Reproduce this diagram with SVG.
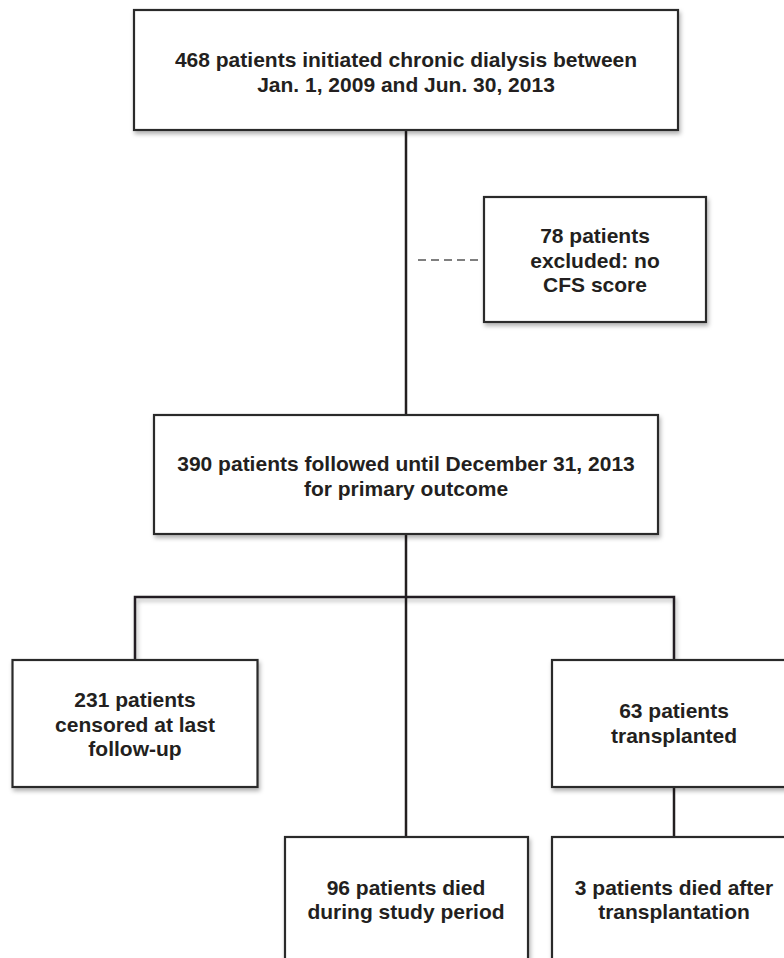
<svg xmlns="http://www.w3.org/2000/svg" width="784" height="958" viewBox="0 0 784 958">
<defs>
<filter id="sh" x="-10%" y="-10%" width="130%" height="140%">
<feDropShadow dx="1.5" dy="3" stdDeviation="2" flood-color="#000" flood-opacity="0.3"/>
</filter>
</defs>
<style>
.box{fill:#fff;stroke:#2b2b2b;stroke-width:2.2;filter:url(#sh)}
.ln{stroke:#231f20;stroke-width:2.5;fill:none}
.dash{stroke:#555;stroke-width:1.6;stroke-dasharray:8 5;fill:none}
text{font-family:"Liberation Sans",Arial,sans-serif;font-weight:bold;font-size:21px;fill:#231f20;text-anchor:middle}
</style>
<rect width="784" height="958" fill="#fff"/>
<g id="connectors">
<line class="ln" x1="406" y1="130" x2="406" y2="415"/>
<line class="ln" x1="406" y1="534" x2="406" y2="837"/>
<polyline class="ln" points="135,660 135,597 674,597 674,660" filter="url(#sh)"/>
<line class="ln" x1="674" y1="787" x2="674" y2="837"/>
<line class="dash" x1="418" y1="260" x2="484" y2="260"/>
</g>
<g id="n_initiated">
<rect class="box" x="134" y="10" width="544" height="120"/>
<text x="406" y="67">468 patients initiated chronic dialysis between</text>
<text x="406" y="92">Jan. 1, 2009 and Jun. 30, 2013</text>
</g>
<g id="n_excluded">
<rect class="box" x="484" y="197" width="222" height="125"/>
<text x="595" y="243">78 patients</text>
<text x="595" y="268">excluded: no</text>
<text x="595" y="292">CFS score</text>
</g>
<g id="n_followed">
<rect class="box" x="154" y="415" width="504" height="119"/>
<text x="406" y="471">390 patients followed until December 31, 2013</text>
<text x="406" y="496">for primary outcome</text>
</g>
<g id="n_censored">
<rect class="box" x="12.5" y="660" width="245" height="127"/>
<text x="135" y="707">231 patients</text>
<text x="135" y="732">censored at last</text>
<text x="135" y="756">follow-up</text>
</g>
<g id="n_transplanted">
<rect class="box" x="552" y="660" width="245" height="127"/>
<text x="674" y="718">63 patients</text>
<text x="674" y="743">transplanted</text>
</g>
<g id="n_died">
<rect class="box" x="285" y="837" width="243" height="127"/>
<text x="406" y="895">96 patients died</text>
<text x="406" y="919">during study period</text>
</g>
<g id="n_died_after">
<rect class="box" x="552" y="837" width="245" height="127"/>
<text x="674" y="895">3 patients died after</text>
<text x="674" y="919">transplantation</text>
</g>
</svg>
